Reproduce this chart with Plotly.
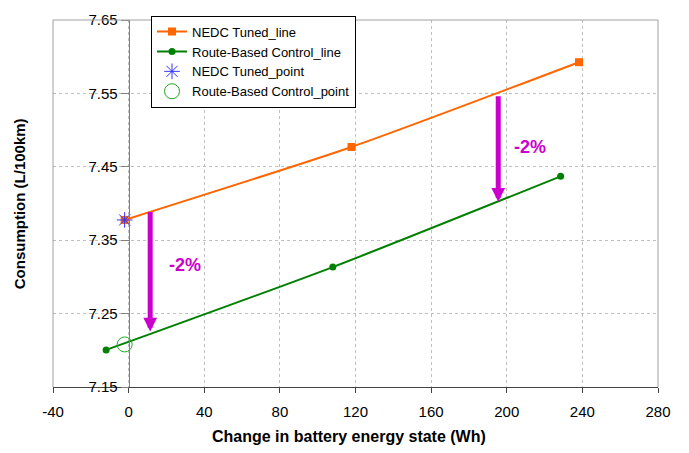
import plotly.graph_objects as go

# Fuel consumption vs. change in battery energy state
nedc_x = [-2.1, 117.9, 238.2]
nedc_y = [7.3776, 7.4770, 7.5925]
route_x = [-11.9, 108.0, 228.5]
route_y = [7.2005, 7.3134, 7.4370]

nedc_point_x = [-2.1]
nedc_point_y = [7.3776]
route_point_x = [-2.1]
route_point_y = [7.2080]

# Savings arrows: x position, start (NEDC curve) and end (route-based curve)
arrow_x = [11.4, 195.5]
arrow_from = [7.3905, 7.5480]
arrow_to = [7.2257, 7.4025]
saving_labels = ["-2%", "-2%"]
label_x = [29.6, 212.3]
label_y = [7.316, 7.477]

x_ticks = [-40, 0, 40, 80, 120, 160, 200, 240, 280]
y_ticks = [7.15, 7.25, 7.35, 7.45, 7.55, 7.65]

FONT = "Arial, 'Liberation Sans', sans-serif"
MAGENTA = "#CC00CC"
GRID = "#BFBFBF"

fig = go.Figure()
fig.add_trace(go.Scatter(
    x=nedc_x, y=nedc_y, mode="lines+markers", name="NEDC Tuned_line",
    line=dict(color="#FF6600", width=2, shape="spline", smoothing=0.6),
    marker=dict(symbol="square", size=8, color="#FF6600"),
))
fig.add_trace(go.Scatter(
    x=route_x, y=route_y, mode="lines+markers", name="Route-Based Control_line",
    line=dict(color="#008000", width=2, shape="spline", smoothing=0.6),
    marker=dict(symbol="circle", size=7, color="#008000"),
))
fig.add_trace(go.Scatter(
    x=nedc_point_x, y=nedc_point_y, mode="markers", name="NEDC Tuned_point",
    marker=dict(symbol="asterisk-open", size=13, color="#3333FF",
                line=dict(color="#3333FF", width=1)),
))
fig.add_trace(go.Scatter(
    x=route_point_x, y=route_point_y, mode="markers", name="Route-Based Control_point",
    marker=dict(symbol="circle-open", size=15, color="#22AA22",
                line=dict(color="#22AA22", width=1)),
))

annotations = []
for xa, y0, y1 in zip(arrow_x, arrow_from, arrow_to):
    annotations.append(dict(
        x=xa, y=y1, ax=xa, ay=y0, xref="x", yref="y", axref="x", ayref="y",
        text="", showarrow=True, arrowhead=2, arrowsize=0.55, arrowwidth=5,
        arrowcolor=MAGENTA, standoff=0,
    ))
for lx, ly, txt in zip(label_x, label_y, saving_labels):
    annotations.append(dict(
        x=lx, y=ly, xref="x", yref="y", text=txt, showarrow=False,
        font=dict(family=FONT, size=18, color=MAGENTA, weight="bold"),
    ))
annotations.append(dict(
    x=-0.055, y=0.5, xref="paper", yref="paper", textangle=-90,
    xanchor="center", yanchor="middle",
    text="<b>Consumption (L/100km)</b>", showarrow=False,
    font=dict(family=FONT, size=15, color="black"),
))
annotations.append(dict(
    x=0.49, y=-0.1356, xref="paper", yref="paper",
    xanchor="center", yanchor="middle",
    text="<b>Change in battery energy state (Wh)</b>", showarrow=False,
    font=dict(family=FONT, size=16, color="black"),
))

border = "#A0A0A0"
shapes = [
    dict(type="line", xref="paper", yref="paper", x0=0, x1=0, y0=0, y1=1,
         line=dict(color=border, width=1)),
    dict(type="line", xref="paper", yref="paper", x0=0, x1=1, y0=1, y1=1,
         line=dict(color=border, width=1)),
    dict(type="line", xref="paper", yref="paper", x0=1, x1=1, y0=0, y1=1,
         line=dict(color=border, width=1)),
]

fig.update_layout(
    width=689, height=453,
    margin=dict(l=53, r=31, t=11, b=66),
    paper_bgcolor="white", plot_bgcolor="white",
    font=dict(family=FONT, size=15, color="black"),
    showlegend=True,
    legend=dict(
        x=0.162, y=1.012, xanchor="left", yanchor="top",
        bgcolor="white", bordercolor="black", borderwidth=1,
        font=dict(family=FONT, size=13, color="black"),
        itemwidth=30, tracegroupgap=0,
    ),
    xaxis=dict(
        range=[-40, 280], tickvals=x_ticks, ticktext=[str(v) for v in x_ticks],
        showgrid=True, gridcolor=GRID, griddash="3px,3px", gridwidth=1,
        zeroline=False, showline=True, linecolor="#444444", linewidth=1,
        ticks="outside", ticklen=5, tickcolor="#444444",
        ticklabelstandoff=6, anchor="y",
        tickfont=dict(family=FONT, size=15, color="black"),
    ),
    yaxis=dict(
        range=[7.15, 7.65], tickvals=y_ticks, ticktext=[f"{v:.2f}" for v in y_ticks],
        showgrid=True, gridcolor=GRID, griddash="3px,3px", gridwidth=1,
        zeroline=False, showline=True, linecolor="#808080", linewidth=1,
        ticks="outside", ticklen=8, tickcolor="#808080",
        anchor="free", position=0.125,
        tickfont=dict(family=FONT, size=15, color="black"),
    ),
    annotations=annotations,
    shapes=shapes,
)

fig.write_html("out.html")
